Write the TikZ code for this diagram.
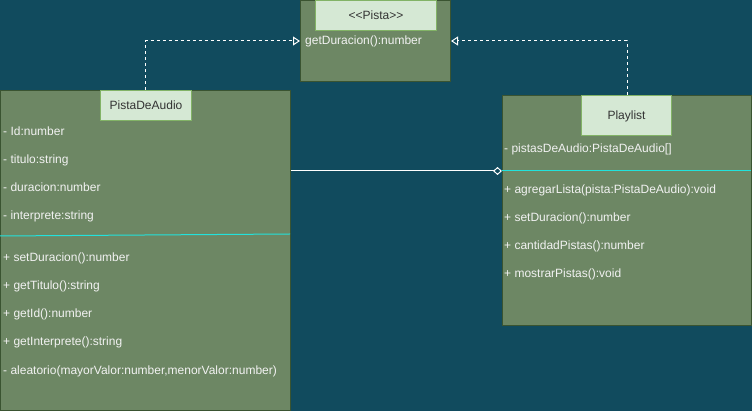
\documentclass[tikz,border=0pt]{standalone}
\usepackage{fontspec}
\setmainfont{Liberation Sans}
\usetikzlibrary{arrows.meta}

\definecolor{bgcol}{HTML}{114B5E}
\definecolor{boxfill}{HTML}{6D8764}
\definecolor{boxline}{HTML}{3A5431}
\definecolor{headfill}{HTML}{D5E8D4}
\definecolor{headline}{HTML}{82B366}
\definecolor{sepline}{HTML}{22E2DC}
\definecolor{membertxt}{HTML}{F2F2F2}
\definecolor{headtxt}{HTML}{333333}

\tikzset{
  classbox/.style={draw=boxline, fill=boxfill, line width=1pt, inner sep=0pt,
    anchor=north west},
  headbox/.style={draw=headline, fill=headfill, line width=1pt, inner sep=0pt,
    anchor=north west, text=headtxt, text height=8.6pt, text depth=0pt},
  member/.style={anchor=base west, inner sep=0pt, text=membertxt},
  sep/.style={draw=sepline, line width=1pt},
  realize/.style={draw=white, line width=1pt, dash pattern=on 3pt off 3pt,
    -{Triangle[length=7pt, width=9pt, fill=bgcol]}},
  aggregate/.style={draw=white, line width=1pt,
    -{Diamond[length=9pt, width=8pt, fill=bgcol]}},
}

\begin{document}
\begin{tikzpicture}[x=1pt, y=-1pt, font=\fontsize{12}{14}\selectfont]
  % canvas
  \fill[bgcol] (0,0) rectangle (752,411);
  \useasboundingbox (0,0) rectangle (752,411);

  % interface Pista
  \node[classbox, minimum width=150pt, minimum height=81pt] (pista) at (300,0) {};
  \node[headbox, minimum width=121pt, minimum height=30pt] (pistah) at (315,0) {<{}<Pista>{}>};
  \node[member] (pm1) at (305,45) {getDuracion():number};

  % class PistaDeAudio
  \node[classbox, minimum width=290pt, minimum height=320pt] (aud) at (0,90) {};
  \node[headbox, minimum width=91pt, minimum height=30pt] (audh) at (100,90) {PistaDeAudio};
  \node[member] (aa1) at (3,136) {- Id:number};
  \node[member] (aa2) at (3,164) {- titulo:string};
  \node[member] (aa3) at (3,192) {- duracion:number};
  \node[member] (aa4) at (3,220) {- interprete:string};
  \draw[sep] (0,236) -- (290,234);
  \node[member] (am1) at (3,262) {+ setDuracion():number};
  \node[member] (am2) at (3,290) {+ getTitulo():string};
  \node[member] (am3) at (3,318) {+ getId():number};
  \node[member] (am4) at (3,346) {+ getInterprete():string};
  \node[member] (am5) at (3,374) {- aleatorio(mayorValor:number,menorValor:number)};

  % class Playlist
  \node[classbox, minimum width=249pt, minimum height=230pt] (play) at (502,95) {};
  \node[headbox, minimum width=90pt, minimum height=40pt] (playh) at (581,95) {Playlist};
  \node[member] (pa1) at (504,153) {- pistasDeAudio:PistaDeAudio[]};
  \draw[sep] (502,171) -- (751,171);
  \node[member] (pl1) at (504,194) {+ agregarLista(pista:PistaDeAudio):void};
  \node[member] (pl2) at (504,222) {+ setDuracion():number};
  \node[member] (pl3) at (504,250) {+ cantidadPistas():number};
  \node[member] (pl4) at (504,278) {+ mostrarPistas():void};

  % realizations of Pista
  \draw[realize] (aud.north) |- (pista.west);
  \draw[realize] (play.north) |- (pista.east);

  % aggregation PistaDeAudio -> Playlist
  \coordinate (aggEnd) at (play.west |- 0,171);
  \draw[aggregate] (aud.east |- aggEnd) -- (aggEnd);
\end{tikzpicture}
\end{document}
